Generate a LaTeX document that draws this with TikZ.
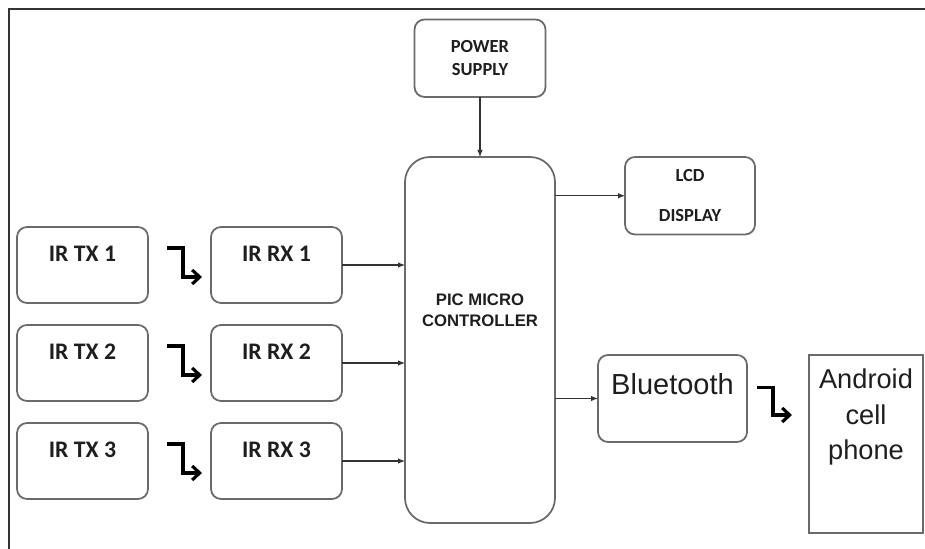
\documentclass[tikz,border=0pt]{standalone}
\usepackage{fontspec}
\newfontfamily\carlito{Carlito}
\newfontfamily\arial{Liberation Sans}
\usetikzlibrary{arrows.meta, positioning}
\definecolor{boxGray}{HTML}{6A6A6A}
\definecolor{lineGray}{HTML}{333333}
\definecolor{textDark}{HTML}{1E1E1E}

\begin{document}
\begin{tikzpicture}[
  box/.style={draw=boxGray, line width=1pt, rounded corners=0.2cm, fill=white,
    inner ysep=0pt, outer sep=0pt, align=center, text=textDark},
  irbox/.style={box, minimum width=2.62cm, minimum height=1.52cm,
    text height=0.7cm, text depth=0.82cm,
    font=\carlito\bfseries\fontsize{13.5}{15}\selectfont},
  smallbox/.style={box, minimum width=2.62cm, minimum height=1.55cm,
    font=\carlito\bfseries\fontsize{10.5}{13}\selectfont},
  arr/.style={-{Latex[length=1.4mm, width=1.1mm]}, line width=0.6pt, lineGray},
  zz/.style={-{Straight Barb[length=1.5mm, width=2.8mm]}, line width=1.8pt, black}
]
\useasboundingbox (0,0) rectangle (18.5,-10.98);
% frame
\draw[lineGray, line width=1.1pt] (0.18,-10.98) |- (18.5,-0.18);

\node[box, rounded corners=0.5cm, minimum width=3cm, minimum height=7.32cm,
  text height=3.4cm, text depth=3.92cm,
  font=\arial\bfseries\fontsize{9.5}{12.5}\selectfont] (pic) at (9.6,-6.8) {PIC MICRO\\CONTROLLER};
\node[smallbox, above=1.2cm of pic] (power) {POWER\\SUPPLY};
\node[smallbox, minimum width=2.6cm, below right=0cm and 1.4cm of pic.north east] (lcd) {LCD\\[0.34cm]DISPLAY};

\node[irbox, below left=1.4cm and 1.26cm of pic.north west] (rx1) {IR RX 1};
\node[irbox, below=0.44cm of rx1] (rx2) {IR RX 2};
\node[irbox, below=0.44cm of rx2] (rx3) {IR RX 3};
\node[irbox, left=1.26cm of rx1] (tx1) {IR TX 1};
\node[irbox, left=1.26cm of rx2] (tx2) {IR TX 2};
\node[irbox, left=1.26cm of rx3] (tx3) {IR TX 3};

\node[box, minimum width=2.98cm, minimum height=1.74cm, text height=0.8cm, text depth=0.94cm,
  font=\arial\fontsize{16.5}{20}\selectfont,
  below right=0.3cm and 0.86cm of pic.east] (bt) {Bluetooth};
\node[box, rounded corners=0pt, minimum width=2.28cm, minimum height=3.56cm,
  text height=2.1cm, text depth=1.46cm,
  font=\arial\fontsize{15.5}{20.4}\selectfont,
  below right=0cm and 1.24cm of bt.north east] (android) {Android\\cell\\phone};

\draw[arr] (power) -- (pic);
\draw[arr] (lcd.west -| pic.east) -- (lcd.west);
\draw[arr] (bt.west -| pic.east) -- (bt.west);
\draw[arr] (rx1.east) -- (rx1.east -| pic.west);
\draw[arr] (rx2.east) -- (rx2.east -| pic.west);
\draw[arr] (rx3.east) -- (rx3.east -| pic.west);

\draw[zz] ([shift={(0.38,0.34)}]tx1.east) -- ++(0.32,0) |- ([shift={(-0.18,-0.24)}]rx1.west);
\draw[zz] ([shift={(0.38,0.34)}]tx2.east) -- ++(0.32,0) |- ([shift={(-0.18,-0.24)}]rx2.west);
\draw[zz] ([shift={(0.38,0.34)}]tx3.east) -- ++(0.32,0) |- ([shift={(-0.18,-0.24)}]rx3.west);
\draw[zz] ([shift={(0.2,0.22)}]bt.east) -- ++(0.32,0) |- ([shift={(-0.34,-1.2)}]android.north west);
\end{tikzpicture}
\end{document}
